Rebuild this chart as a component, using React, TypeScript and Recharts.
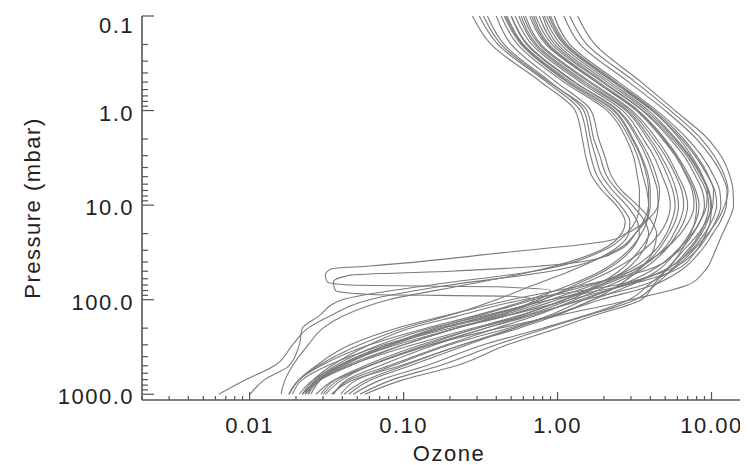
import { Line, LineChart, XAxis, YAxis } from "recharts";

// pressure levels (mbar) shared by most soundings
const LEVELS = [0.1, 0.2, 0.5, 1, 2, 3, 5, 7, 10, 15, 20, 30, 50, 70, 100, 150, 200, 300, 500, 700, 1000];

// ozone at each of LEVELS, one array per sounding
const p01 = [0.28, 0.37, 0.78, 1.3, 1.45, 1.52, 1.68, 1.95, 2.4, 2.75, 2.6, 1.9, 0.7, 0.25, 0.08, 0.04, 0.03, 0.024, 0.019, 0.017, 0.016];
const p02 = [0.31, 0.41, 0.85, 1.4, 1.56, 1.64, 1.82, 2.1, 2.55, 2.95, 2.9, 2.3, 1.2, 0.7, 0.4, 0.19, 0.1, 0.052, 0.028, 0.021, 0.018];
const p03 = [0.35, 0.45, 0.9, 1.48, 1.64, 1.76, 1.96, 2.28, 2.8, 3.3, 3.4, 3.0, 2.0, 1.3, 0.8, 0.4, 0.22, 0.1, 0.045, 0.029, 0.023];
const p04 = [0.33, 0.43, 0.88, 1.55, 1.72, 1.88, 2.1, 2.45, 3.05, 3.7, 3.9, 3.6, 2.7, 1.9, 1.2, 0.6, 0.34, 0.15, 0.06, 0.036, 0.027];
const p05 = [0.4, 0.5, 0.98, 1.65, 1.85, 2.02, 2.25, 2.6, 3.3, 4.1, 4.4, 4.2, 3.3, 2.5, 1.7, 0.9, 0.52, 0.24, 0.095, 0.048, 0.034];
const p06 = [0.45, 0.58, 1.15, 2.2, 2.95, 3.3, 3.6, 3.8, 3.9, 3.8, 3.5, 2.9, 1.9, 1.2, 0.65, 0.28, 0.14, 0.06, 0.029, 0.021, 0.018];
const p07 = [0.5, 0.63, 1.28, 2.45, 3.3, 3.75, 4.2, 4.45, 4.5, 4.3, 4.0, 3.4, 2.5, 1.8, 1.1, 0.54, 0.28, 0.115, 0.044, 0.028, 0.022];
const p08 = [0.56, 0.71, 1.46, 2.78, 3.85, 4.5, 5.2, 5.6, 5.8, 5.5, 5.1, 4.3, 2.8, 1.7, 0.9, 0.42, 0.22, 0.1, 0.042, 0.029, 0.024];
const p09 = [0.62, 0.78, 1.65, 3.05, 4.4, 5.2, 6.1, 6.7, 7.0, 6.6, 6.0, 5.0, 3.4, 2.2, 1.3, 0.7, 0.4, 0.19, 0.08, 0.045, 0.035];
const p10 = [0.7, 0.88, 1.85, 3.35, 5.0, 6.0, 7.2, 7.9, 8.3, 7.9, 7.2, 6.0, 4.0, 2.6, 1.5, 0.85, 0.52, 0.26, 0.11, 0.062, 0.044];
const p11 = [0.8, 1.0, 2.1, 3.75, 5.8, 7.1, 8.6, 9.5, 9.9, 9.4, 8.6, 7.2, 5.4, 4.3, 3.2, 1.5, 0.85, 0.4, 0.17, 0.085, 0.052];
const p12 = [0.85, 1.1, 2.3, 4.1, 6.4, 7.8, 9.5, 10.5, 10.8, 10.0, 9.0, 7.4, 4.8, 2.8, 1.2, 0.45, 0.2, 0.08, 0.038, 0.029, 0.025];
const p13 = [1.35, 1.75, 3.5, 5.8, 9.5, 11.5, 13.2, 13.8, 13.9, 12.8, 11.8, 10.6, 9.0, 7.0, 3.0, 0.95, 0.42, 0.15, 0.06, 0.04, 0.031];
const p14 = [0.95, 1.2, 2.5, 4.4, 7.0, 8.6, 10.4, 11.3, 11.5, 10.6, 9.6, 8.0, 5.0, 2.4, 0.6, 0.22, 0.11, 0.06, 0.034, 0.026, 0.022];
const p15 = [0.9, 1.15, 2.4, 4.25, 6.6, 8.0, 9.6, 10.3, 10.2, 9.2, 8.2, 6.6, 5.0, 4.2, 3.5, 1.66, 1.0, 0.47, 0.22, 0.1, 0.056];
const p16 = [0.6, 0.76, 1.6, 2.95, 4.2, 5.0, 5.9, 6.4, 6.6, 6.2, 5.7, 4.8, 3.0, 1.6, 0.7, 0.3, 0.16, 0.08, 0.04, 0.027, 0.023];
const p17 = [0.66, 0.84, 1.78, 3.25, 4.8, 5.8, 6.9, 7.5, 7.7, 7.1, 6.3, 4.9, 3.0, 1.9, 1.0, 0.45, 0.22, 0.09, 0.038, 0.026, 0.021];
const p18 = [0.72, 0.92, 1.95, 3.55, 5.4, 6.6, 7.9, 8.7, 9.0, 8.4, 7.6, 6.2, 3.6, 1.5, 0.5, 0.18, 0.09, 0.045, 0.027, 0.021, 0.018];
const p19 = [0.76, 0.96, 2.0, 3.6, 5.6, 6.9, 8.3, 9.2, 9.6, 9.1, 8.4, 7.0, 4.8, 2.7, 1.4, 0.65, 0.34, 0.16, 0.07, 0.043, 0.035];
const p20 = [0.53, 0.68, 1.4, 2.65, 3.6, 4.2, 4.8, 5.2, 5.4, 5.1, 4.6, 3.6, 2.2, 1.4, 0.8, 0.38, 0.18, 0.075, 0.032, 0.022, 0.019];
const p21 = [0.58, 0.73, 1.52, 2.85, 4.0, 4.7, 5.5, 5.9, 6.1, 5.8, 5.3, 4.5, 3.2, 2.0, 1.1, 0.56, 0.3, 0.14, 0.06, 0.038, 0.03];
const p22 = [1.1, 1.4, 2.9, 5.0, 8.0, 9.8, 11.8, 12.6, 12.5, 11.4, 10.2, 8.6, 6.2, 4.2, 1.9, 0.9, 0.48, 0.2, 0.085, 0.05, 0.039];
const p23 = [1.2, 1.55, 3.2, 5.4, 8.6, 10.4, 12.2, 12.8, 12.2, 10.8, 9.5, 7.6, 5.4, 3.6, 1.5, 0.6, 0.3, 0.13, 0.056, 0.036, 0.029];
const p24 = [0.88, 1.12, 2.35, 4.15, 6.2, 7.4, 8.8, 9.4, 9.3, 8.4, 7.5, 6.0, 4.4, 3.0, 1.7, 0.95, 0.56, 0.24, 0.1, 0.058, 0.041];
const p25 = [0.82, 1.05, 2.2, 3.9, 5.9, 7.2, 8.7, 9.6, 10.0, 9.8, 9.2, 8.0, 5.6, 2.8, 0.9, 0.32, 0.15, 0.07, 0.036, 0.027, 0.024];
const p26 = [0.68, 0.86, 1.8, 3.3, 4.9, 5.9, 7.0, 7.7, 8.0, 7.8, 7.3, 6.4, 5.0, 3.9, 2.9, 1.45, 0.8, 0.33, 0.14, 0.072, 0.047];
const p27 = [0.47, 0.6, 1.22, 2.35, 3.1, 3.5, 3.9, 4.0, 4.0, 3.7, 3.2, 2.4, 0.9, 0.2, 0.06, 0.033, 0.024, 0.019, 0.0145, 0.0095, 0.0063];
const p28 = [0.43, 0.55, 1.1, 2.1, 2.8, 3.1, 3.3, 3.4, 3.4, 3.2, 2.8, 2.0, 0.7, 0.15, 0.04, 0.028, 0.022, 0.021, 0.018, 0.0125, 0.0101];

// two soundings with a depleted layer, on their own levels
const hole1Pressure = [0.1, 0.2, 0.5, 1, 2, 3, 5, 7, 10, 15, 20, 24, 32, 44, 47, 55, 65, 70, 73, 80, 100, 150, 200, 300, 500, 700, 1000];
const hole1Ozone = [0.5, 0.64, 1.3, 2.5, 3.4, 3.9, 4.4, 4.6, 4.5, 3.7, 2.8, 2.1, 0.43, 0.06, 0.034, 0.031, 0.032, 0.045, 0.4, 0.9, 0.75, 0.35, 0.17, 0.08, 0.038, 0.028, 0.023];
const hole2Pressure = [0.1, 0.2, 0.5, 1, 2, 3, 5, 7, 10, 15, 20, 30, 40, 50, 55, 65, 80, 88, 92, 100, 150, 200, 300, 500, 700, 1000];
const hole2Ozone = [0.46, 0.59, 1.18, 2.3, 3.05, 3.45, 3.8, 3.9, 3.9, 3.6, 3.2, 2.5, 1.4, 0.2, 0.045, 0.035, 0.036, 0.06, 0.5, 0.7, 0.35, 0.18, 0.085, 0.04, 0.028, 0.022];

const X_MAJOR = [0.01, 0.1, 1, 10];
const X_LABELS = ["0.01", "0.10", "1.00", "10.00"];
const X_MINOR = [
  0.002, 0.003, 0.004, 0.005, 0.006, 0.007, 0.008, 0.009,
  0.02, 0.03, 0.04, 0.05, 0.06, 0.07, 0.08, 0.09,
  0.2, 0.3, 0.4, 0.5, 0.6, 0.7, 0.8, 0.9,
  2, 3, 4, 5, 6, 7, 8, 9,
];
const Y_MAJOR = [0.1, 1, 10, 100, 1000];
const Y_LABELS = ["0.1", "1.0", "10.0", "100.0", "1000.0"];
const Y_MINOR = [
  0.2, 0.3, 0.4, 0.5, 0.6, 0.7, 0.8, 0.9,
  2, 3, 4, 5, 6, 7, 8, 9,
  20, 30, 40, 50, 60, 70, 80, 90,
  200, 300, 400, 500, 600, 700, 800, 900,
];

const AXIS = "#555";
const LINE = "#7a7a7a";
const FONT = "'Liberation Sans', Arial, sans-serif";
const textStyle = { fontFamily: FONT, fontSize: 22, letterSpacing: 1.5, fill: "#222" };

const series = [
  p01, p02, p03, p04, p05, p06, p07, p08, p09, p10, p11, p12, p13, p14,
  p15, p16, p17, p18, p19, p20, p21, p22, p23, p24, p25, p26, p27, p28,
].map((oz) => LEVELS.map((p, i) => ({ p, o: oz[i] })));
series.push(hole1Pressure.map((p, i) => ({ p, o: hole1Ozone[i] })));
series.push(hole2Pressure.map((p, i) => ({ p, o: hole2Ozone[i] })));

const xTicks = [...X_MAJOR, ...X_MINOR];
const yTicks = [...Y_MAJOR, ...Y_MINOR];

function BottomTick({ x, y, payload }: any) {
  const i = X_MAJOR.indexOf(payload.value);
  return (
    <g>
      <line x1={x} x2={x} y1={y} y2={y - (i >= 0 ? 8 : 4)} stroke={AXIS} strokeWidth={1.2} />
      {i >= 0 && (
        <text x={x} y={y + 33} textAnchor="middle" style={textStyle}>
          {X_LABELS[i]}
        </text>
      )}
    </g>
  );
}

function TopTick({ x, y, payload }: any) {
  const major = X_MAJOR.includes(payload.value);
  return <line x1={x} x2={x} y1={y} y2={y + (major ? 8 : 4)} stroke={AXIS} strokeWidth={1.2} />;
}

function LeftTick({ x, y, payload }: any) {
  const i = Y_MAJOR.indexOf(payload.value);
  // the top label sits a little lower than its tick, as in the source figure
  const dy = i === 0 ? 17 : 10;
  return (
    <g>
      <line x1={x} x2={x + (i >= 0 ? 12 : 6)} y1={y} y2={y} stroke={AXIS} strokeWidth={1.2} />
      {i >= 0 && (
        <text x={x - 8} y={y + dy} textAnchor="end" style={textStyle}>
          {Y_LABELS[i]}
        </text>
      )}
    </g>
  );
}

function RightTick({ x, y, payload }: any) {
  const major = Y_MAJOR.includes(payload.value);
  return <line x1={x} x2={x - (major ? 12 : 6)} y1={y} y2={y} stroke={AXIS} strokeWidth={1.2} />;
}

const ozoneTitle = () => (
  <text x={441} y={453} textAnchor="middle" style={textStyle}>
    Ozone
  </text>
);

const pressureTitle = () => (
  <text x={32} y={200} textAnchor="middle" transform="rotate(-90, 32, 200)" style={textStyle}>
    Pressure (mbar)
  </text>
);

export default function App() {
  return (
    <LineChart width={740} height={457} margin={{ top: 8, right: 1, bottom: 0, left: 0 }}>
      <XAxis
        xAxisId="x"
        dataKey="o"
        type="number"
        scale="log"
        domain={[0.002, 17]}
        allowDataOverflow
        ticks={xTicks}
        interval={0}
        height={65}
        tickSize={0}
        tickMargin={0}
        tickLine={false}
        tick={<BottomTick />}
        axisLine={{ stroke: AXIS, strokeWidth: 1.6 }}
        label={ozoneTitle}
      />
      <XAxis
        xAxisId="top"
        orientation="top"
        dataKey="o"
        type="number"
        scale="log"
        domain={[0.002, 17]}
        allowDataOverflow
        ticks={xTicks}
        interval={0}
        height={0}
        tickSize={0}
        tickMargin={0}
        tickLine={false}
        tick={<TopTick />}
        axisLine={{ stroke: AXIS, strokeWidth: 1.6 }}
      />
      <YAxis
        yAxisId="y"
        dataKey="p"
        type="number"
        scale="log"
        domain={[0.1, 1150]}
        reversed
        allowDataOverflow
        ticks={yTicks}
        interval={0}
        width={134}
        tickSize={0}
        tickMargin={0}
        tickLine={false}
        tick={<LeftTick />}
        axisLine={{ stroke: AXIS, strokeWidth: 1.6 }}
        label={pressureTitle}
      />
      <YAxis
        yAxisId="right"
        orientation="right"
        dataKey="p"
        type="number"
        scale="log"
        domain={[0.1, 1150]}
        reversed
        allowDataOverflow
        ticks={yTicks}
        interval={0}
        width={0}
        tickSize={0}
        tickMargin={0}
        tickLine={false}
        tick={<RightTick />}
        axisLine={{ stroke: AXIS, strokeWidth: 1.6 }}
      />
      {series.map((data, i) => (
        <Line
          key={i}
          data={data}
          dataKey="p"
          xAxisId="x"
          yAxisId="y"
          type="monotoneY"
          stroke={LINE}
          strokeWidth={1.1}
          dot={false}
          activeDot={false}
          isAnimationActive={false}
        />
      ))}
    </LineChart>
  );
}
